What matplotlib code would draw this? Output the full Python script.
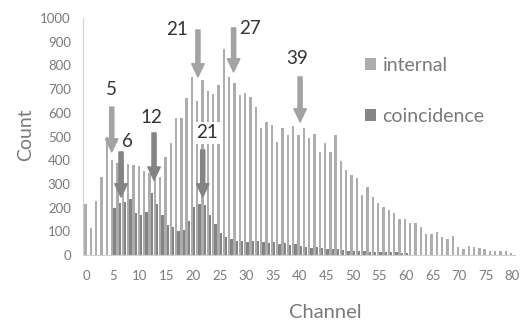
import matplotlib
matplotlib.use("Agg")
import matplotlib.pyplot as plt
import numpy as np

plt.rcParams['font.family'] = ['Lato', 'DejaVu Sans']

channels = list(range(81))
internal = [215, 115, 230, 330, 500, 400, 390, 388, 385, 378,
            375, 355, 345, 360, 330, 412, 473, 578, 578, 664,
            749, 650, 738, 690, 680, 717, 868, 750, 727, 675,
            682, 665, 623, 537, 562, 548, 478, 537, 506, 544,
            506, 537, 492, 510, 436, 474, 436, 506, 398, 359,
            338, 323, 253, 286, 246, 221, 201, 190, 176, 151,
            151, 136, 136, 117, 87, 87, 98, 77, 66, 80,
            35, 24, 39, 35, 28, 24, 18, 18, 17, 18, 10]
coincidence = [0, 0, 0, 0, 0, 198, 218, 225, 235, 176,
               169, 183, 263, 215, 169, 127, 120, 101, 105, 145,
               201, 215, 211, 169, 130, 94, 77, 66, 60, 60,
               56, 60, 58, 56, 52, 56, 46, 49, 42, 46,
               38, 36, 32, 36, 28, 25, 25, 25, 21, 18,
               18, 17, 16, 15, 15, 14, 13, 12, 12, 10,
               10, 0, 0, 0, 0, 0, 0, 0, 0, 0,
               0, 0, 0, 0, 0, 0, 0, 0, 0, 0, 0]
xtick_labels = list(range(0, 81, 5))
ytick_labels = list(range(0, 1001, 100))

# peak markers: (label, arrow x, arrow tail y, arrow tip y, label x, label y, colour, boxed)
peaks = [
    ("5", 4.7, 624, 435, 4.7, 696, "#a3a3a3", False),
    ("6", 6.45, 435, 245, 7.6, 478, "#848484", False),
    ("12", 12.65, 515, 316, 12.2, 578, "#848484", False),
    ("21", 20.9, 949, 751, 16.9, 949, "#a3a3a3", False),
    ("21", 21.8, 443, 245, 22.6, 515, "#848484", True),
    ("27", 27.6, 958, 772, 30.6, 954, "#a3a3a3", False),
    ("39", 40.1, 751, 561, 39.6, 827, "#a3a3a3", False),
]

c_int = "#adadad"
c_coi = "#858585"

fig = plt.figure(figsize=(5.24, 3.25), dpi=100)
ax = fig.add_axes([0.159, 0.215, 0.824, 0.730])

x = np.array(channels)
w = 0.44
ax.bar(x - w / 2, internal, width=w, color=c_int, label="internal", zorder=2)
ax.bar(x + w / 2, coincidence, width=w, color=c_coi, label="coincidence", zorder=2)

ax.set_xlim(-0.64, 80.5)
ax.set_ylim(0, 1000)
ax.set_xticks(xtick_labels)
ax.set_xticklabels([str(v) for v in xtick_labels])
ax.set_yticks(ytick_labels)
ax.set_yticklabels([str(v) for v in ytick_labels])
ax.tick_params(axis='both', length=0, labelsize=9.5, labelcolor="#7a7a7a")
ax.tick_params(axis='x', pad=11)
ax.tick_params(axis='y', pad=9)

for s in ['top', 'right']:
    ax.spines[s].set_visible(False)
ax.spines['left'].set_color("#d0d0d0")
ax.spines['bottom'].set_color("#d0d0d0")
ax.spines['left'].set_linewidth(0.8)
ax.spines['bottom'].set_linewidth(0.8)

for label, ax_x, y0, y1, lx, ly, col, boxed in peaks:
    ax.annotate("", xy=(ax_x, y1), xytext=(ax_x, y0),
                arrowprops=dict(arrowstyle="simple,head_width=0.9,head_length=0.95,tail_width=0.3",
                                mutation_scale=10, color=col, shrinkA=0, shrinkB=0),
                zorder=4)
    bbox = dict(facecolor="white", edgecolor="none", pad=1.5) if boxed else None
    ax.text(lx, ly, label, ha="center", va="center", fontsize=13.5,
            color="#333333", bbox=bbox, zorder=5)

leg = ax.legend(loc="upper left", bbox_to_anchor=(0.612, 0.91), frameon=False,
                fontsize=14, labelcolor="#7a7a7a", handlelength=0.55, handleheight=0.55,
                handletextpad=0.35, labelspacing=1.75)

fig.text(0.048, 0.585, "Count", rotation=90, ha="center", va="center",
         fontsize=14, color="#7a7a7a")
fig.text(0.62, 0.04, "Channel", ha="center", va="center",
         fontsize=14.5, color="#7a7a7a")

fig.savefig("out.png", dpi=100)
